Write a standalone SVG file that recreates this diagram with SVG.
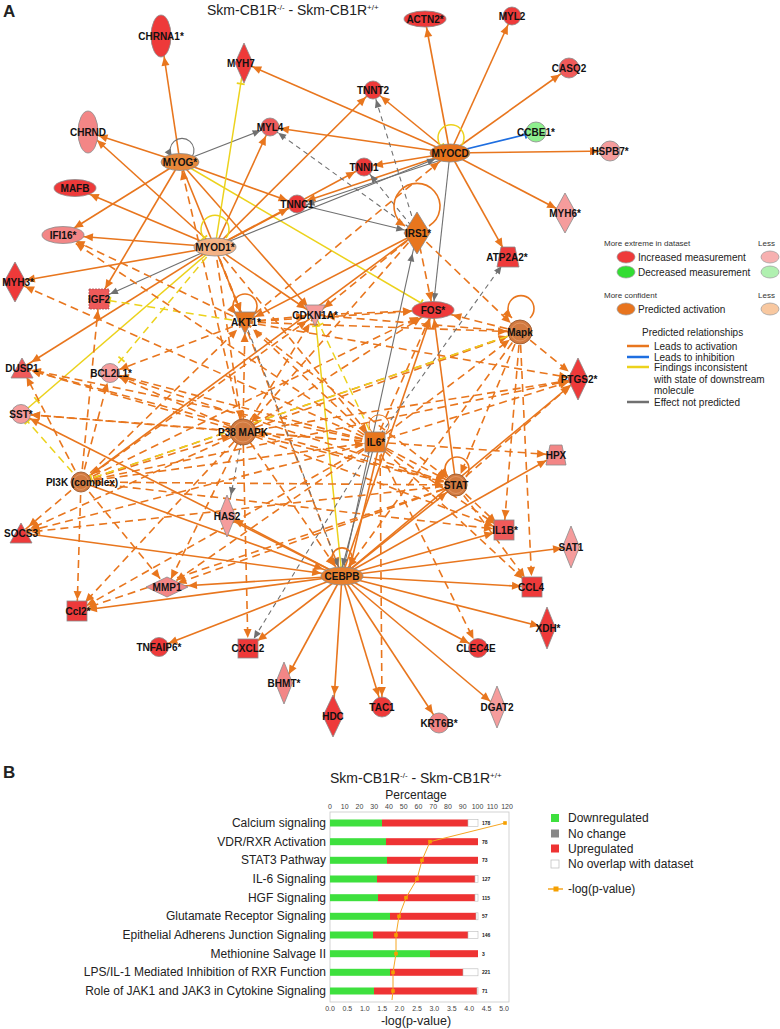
<svg xmlns="http://www.w3.org/2000/svg" width="780" height="1029" viewBox="0 0 780 1029">
<style>
text{font-family:"Liberation Sans",Arial,sans-serif;fill:#222}
.lb{font-size:10px;font-weight:bold;fill:#111;text-anchor:middle}
.s{stroke:#e8761e;stroke-width:1.6;fill:none}
.d{stroke:#e8761e;stroke-width:1.6;stroke-dasharray:8 5;fill:none}
.g{stroke:#707070;stroke-width:1.1;fill:none}
.gd{stroke:#707070;stroke-width:1.1;stroke-dasharray:5 4;fill:none}
.y{stroke:#ecd21c;stroke-width:1.5;fill:none}
.yd{stroke:#ecd21c;stroke-width:1.5;stroke-dasharray:8 5;fill:none}
.b{stroke:#1e6ee0;stroke-width:1.6;fill:none}
.nd{stroke:#8a8a8a;stroke-width:0.8}
.r1{fill:#ee3a3a}.r2{fill:#ef5a5a}.p1{fill:#f59c9c}.p2{fill:#f38686}
.or{fill:#e8761e}.grp{fill:#d27a40;stroke:#9a5a30;stroke-width:0.9}
.cat{font-size:12px;text-anchor:end}
.tk{font-size:7px;fill:#444;text-anchor:middle}
.cnt{font-size:5px;font-weight:bold;fill:#222}
.lg{font-size:10px}
.lgs{font-size:8px;fill:#333}
</style>
<defs>
<marker id="o0" markerUnits="userSpaceOnUse" orient="auto" overflow="visible" refX="0" refY="0" markerWidth="10" markerHeight="10"><path d="M0,0L-9,-4L-9,4z" fill="#e8761e"/></marker>
<marker id="o8" markerUnits="userSpaceOnUse" orient="auto" overflow="visible" refX="8" refY="0" markerWidth="10" markerHeight="10"><path d="M0,0L-9,-4L-9,4z" fill="#e8761e"/></marker>
<marker id="o9" markerUnits="userSpaceOnUse" orient="auto" overflow="visible" refX="9" refY="0" markerWidth="10" markerHeight="10"><path d="M0,0L-9,-4L-9,4z" fill="#e8761e"/></marker>
<marker id="o10" markerUnits="userSpaceOnUse" orient="auto" overflow="visible" refX="10" refY="0" markerWidth="10" markerHeight="10"><path d="M0,0L-9,-4L-9,4z" fill="#e8761e"/></marker>
<marker id="o11" markerUnits="userSpaceOnUse" orient="auto" overflow="visible" refX="11" refY="0" markerWidth="10" markerHeight="10"><path d="M0,0L-9,-4L-9,4z" fill="#e8761e"/></marker>
<marker id="o12" markerUnits="userSpaceOnUse" orient="auto" overflow="visible" refX="12" refY="0" markerWidth="10" markerHeight="10"><path d="M0,0L-9,-4L-9,4z" fill="#e8761e"/></marker>
<marker id="o13" markerUnits="userSpaceOnUse" orient="auto" overflow="visible" refX="13" refY="0" markerWidth="10" markerHeight="10"><path d="M0,0L-9,-4L-9,4z" fill="#e8761e"/></marker>
<marker id="o14" markerUnits="userSpaceOnUse" orient="auto" overflow="visible" refX="14" refY="0" markerWidth="10" markerHeight="10"><path d="M0,0L-9,-4L-9,4z" fill="#e8761e"/></marker>
<marker id="o15" markerUnits="userSpaceOnUse" orient="auto" overflow="visible" refX="15" refY="0" markerWidth="10" markerHeight="10"><path d="M0,0L-9,-4L-9,4z" fill="#e8761e"/></marker>
<marker id="o16" markerUnits="userSpaceOnUse" orient="auto" overflow="visible" refX="16" refY="0" markerWidth="10" markerHeight="10"><path d="M0,0L-9,-4L-9,4z" fill="#e8761e"/></marker>
<marker id="o20" markerUnits="userSpaceOnUse" orient="auto" overflow="visible" refX="20" refY="0" markerWidth="10" markerHeight="10"><path d="M0,0L-9,-4L-9,4z" fill="#e8761e"/></marker>
<marker id="o21" markerUnits="userSpaceOnUse" orient="auto" overflow="visible" refX="21" refY="0" markerWidth="10" markerHeight="10"><path d="M0,0L-9,-4L-9,4z" fill="#e8761e"/></marker>
<marker id="g0" markerUnits="userSpaceOnUse" orient="auto" overflow="visible" refX="0" refY="0" markerWidth="10" markerHeight="10"><path d="M0,0L-8,-3.5L-8,3.5z" fill="#707070"/></marker>
<marker id="g9" markerUnits="userSpaceOnUse" orient="auto" overflow="visible" refX="9" refY="0" markerWidth="10" markerHeight="10"><path d="M0,0L-8,-3.5L-8,3.5z" fill="#707070"/></marker>
<marker id="g10" markerUnits="userSpaceOnUse" orient="auto" overflow="visible" refX="10" refY="0" markerWidth="10" markerHeight="10"><path d="M0,0L-8,-3.5L-8,3.5z" fill="#707070"/></marker>
<marker id="g11" markerUnits="userSpaceOnUse" orient="auto" overflow="visible" refX="11" refY="0" markerWidth="10" markerHeight="10"><path d="M0,0L-8,-3.5L-8,3.5z" fill="#707070"/></marker>
<marker id="g12" markerUnits="userSpaceOnUse" orient="auto" overflow="visible" refX="12" refY="0" markerWidth="10" markerHeight="10"><path d="M0,0L-8,-3.5L-8,3.5z" fill="#707070"/></marker>
<marker id="g13" markerUnits="userSpaceOnUse" orient="auto" overflow="visible" refX="13" refY="0" markerWidth="10" markerHeight="10"><path d="M0,0L-8,-3.5L-8,3.5z" fill="#707070"/></marker>
<marker id="g16" markerUnits="userSpaceOnUse" orient="auto" overflow="visible" refX="16" refY="0" markerWidth="10" markerHeight="10"><path d="M0,0L-8,-3.5L-8,3.5z" fill="#707070"/></marker>
<marker id="g21" markerUnits="userSpaceOnUse" orient="auto" overflow="visible" refX="21" refY="0" markerWidth="10" markerHeight="10"><path d="M0,0L-8,-3.5L-8,3.5z" fill="#707070"/></marker>
<marker id="y0" markerUnits="userSpaceOnUse" orient="auto" overflow="visible" refX="0" refY="0" markerWidth="10" markerHeight="10"><path d="M0,-4V4" stroke="#ecd21c" stroke-width="1.8"/></marker>
<marker id="y10" markerUnits="userSpaceOnUse" orient="auto" overflow="visible" refX="10" refY="0" markerWidth="10" markerHeight="10"><path d="M0,-4V4" stroke="#ecd21c" stroke-width="1.8"/></marker>
<marker id="y11" markerUnits="userSpaceOnUse" orient="auto" overflow="visible" refX="11" refY="0" markerWidth="10" markerHeight="10"><path d="M0,-4V4" stroke="#ecd21c" stroke-width="1.8"/></marker>
<marker id="y14" markerUnits="userSpaceOnUse" orient="auto" overflow="visible" refX="14" refY="0" markerWidth="10" markerHeight="10"><path d="M0,-4V4" stroke="#ecd21c" stroke-width="1.8"/></marker>
<marker id="y18" markerUnits="userSpaceOnUse" orient="auto" overflow="visible" refX="18" refY="0" markerWidth="10" markerHeight="10"><path d="M0,-4V4" stroke="#ecd21c" stroke-width="1.8"/></marker>
<marker id="y21" markerUnits="userSpaceOnUse" orient="auto" overflow="visible" refX="21" refY="0" markerWidth="10" markerHeight="10"><path d="M0,-4V4" stroke="#ecd21c" stroke-width="1.8"/></marker>
<marker id="b11" markerUnits="userSpaceOnUse" orient="auto" overflow="visible" refX="11" refY="0" markerWidth="10" markerHeight="10"><path d="M0,-4V4" stroke="#1e6ee0" stroke-width="1.8"/></marker>
</defs>
<rect width="780" height="1029" fill="#ffffff"/>
<text x="3" y="17" font-size="17" font-weight="bold" fill="#111">A</text>
<text x="207" y="15" font-size="14">Skm-CB1R<tspan font-size="8" dy="-5">-/-</tspan><tspan dy="5"> - Skm-CB1R</tspan><tspan font-size="8" dy="-5">+/+</tspan></text>

<g id="connectors">
<line class="s" x1="450" y1="153" x2="425" y2="19" marker-end="url(#o9)"/>
<line class="s" x1="450" y1="153" x2="512" y2="16" marker-end="url(#o10)"/>
<line class="s" x1="450" y1="153" x2="569" y2="68" marker-end="url(#o11)"/>
<line class="s" x1="450" y1="153" x2="373" y2="90" marker-end="url(#o10)"/>
<line class="s" x1="450" y1="153" x2="270" y2="127" marker-end="url(#o10)"/>
<line class="s" x1="450" y1="153" x2="364" y2="167" marker-end="url(#o10)"/>
<line class="s" x1="450" y1="153" x2="297" y2="204" marker-end="url(#o10)"/>
<line class="s" x1="450" y1="153" x2="610" y2="151" marker-end="url(#o11)"/>
<line class="s" x1="450" y1="153" x2="565" y2="213" marker-end="url(#o10)"/>
<line class="s" x1="450" y1="153" x2="508" y2="257" marker-end="url(#o11)"/>
<line class="s" x1="450" y1="153" x2="244" y2="63" marker-end="url(#o9)"/>
<line class="b" x1="450" y1="153" x2="536" y2="132" marker-end="url(#b11)"/>
<line class="g" x1="450" y1="153" x2="433" y2="310" marker-end="url(#g9)"/>
<line class="g" x1="450" y1="157" x2="297" y2="208" marker-end="url(#g10)"/>
<line class="s" x1="180" y1="162" x2="161" y2="36" marker-end="url(#o21)"/>
<line class="s" x1="180" y1="162" x2="88" y2="132" marker-end="url(#o11)"/>
<line class="g" x1="180" y1="162" x2="270" y2="127" marker-end="url(#g10)"/>
<line class="y" x1="180" y1="162" x2="433" y2="310" marker-end="url(#y14)"/>
<line class="s" x1="180" y1="162" x2="63" y2="235" marker-end="url(#o13)"/>
<line class="s" x1="180" y1="162" x2="99" y2="299" marker-end="url(#o12)"/>
<line class="s" x1="180" y1="162" x2="297" y2="204" marker-end="url(#o10)"/>
<line class="s" x1="180" y1="162" x2="315" y2="315" marker-end="url(#o11)"/>
<line class="s" x1="180" y1="162" x2="245" y2="322" marker-end="url(#o11)"/>
<line class="d" x1="243" y1="432" x2="180" y2="162" marker-end="url(#o9)"/>
<line class="s" x1="215" y1="247" x2="63" y2="235" marker-end="url(#o21)"/>
<line class="s" x1="215" y1="247" x2="15" y2="282" marker-end="url(#o11)"/>
<line class="s" x1="215" y1="247" x2="75" y2="188" marker-end="url(#o16)"/>
<line class="s" x1="215" y1="247" x2="88" y2="132" marker-end="url(#o12)"/>
<line class="s" x1="215" y1="247" x2="270" y2="127" marker-end="url(#o10)"/>
<line class="s" x1="215" y1="247" x2="297" y2="204" marker-end="url(#o10)"/>
<line class="s" x1="215" y1="247" x2="364" y2="167" marker-end="url(#o10)"/>
<line class="s" x1="215" y1="247" x2="373" y2="90" marker-end="url(#o10)"/>
<line class="y" x1="215" y1="247" x2="244" y2="63" marker-end="url(#y21)"/>
<line class="y" x1="215" y1="247" x2="21" y2="414" marker-end="url(#y21)"/>
<line class="yd" x1="215" y1="247" x2="110" y2="373" marker-end="url(#y18)"/>
<line class="s" x1="215" y1="247" x2="22" y2="368" marker-end="url(#o11)"/>
<line class="g" x1="215" y1="247" x2="450" y2="153" marker-end="url(#g16)"/>
<line class="g" x1="215" y1="247" x2="99" y2="299" marker-end="url(#g12)"/>
<line class="s" x1="215" y1="247" x2="315" y2="315" marker-end="url(#o11)"/>
<line class="d" x1="215" y1="247" x2="245" y2="322" marker-end="url(#o11)"/>
<line class="d" x1="215" y1="247" x2="243" y2="432" marker-end="url(#o13)"/>
<line class="d" x1="215" y1="247" x2="375" y2="442" marker-end="url(#o12)"/>
<line class="d" x1="215" y1="247" x2="342" y2="576" marker-end="url(#o10)"/>
<line class="s" x1="417" y1="233" x2="245" y2="322" marker-end="url(#o11)"/>
<line class="s" x1="417" y1="233" x2="81" y2="482" marker-end="url(#o13)"/>
<line class="d" x1="417" y1="233" x2="243" y2="432" marker-end="url(#o13)"/>
<line class="d" x1="417" y1="233" x2="433" y2="310" marker-end="url(#o9)"/>
<line class="d" x1="417" y1="233" x2="520" y2="332" marker-end="url(#o13)"/>
<line class="d" x1="417" y1="233" x2="315" y2="315" marker-end="url(#o11)"/>
<line class="gd" x1="417" y1="233" x2="270" y2="127" marker-end="url(#g10)"/>
<line class="gd" x1="417" y1="233" x2="373" y2="90" marker-end="url(#g10)"/>
<line class="gd" x1="417" y1="233" x2="364" y2="167" marker-end="url(#g10)"/>
<line class="g" x1="342" y1="576" x2="417" y2="233" marker-end="url(#g21)"/>
<line class="g" x1="297" y1="204" x2="417" y2="233" marker-end="url(#g13)"/>
<line class="d" x1="245" y1="322" x2="433" y2="310" marker-end="url(#o21)"/>
<line class="d" x1="315" y1="315" x2="433" y2="310" marker-end="url(#o21)"/>
<line class="d" x1="243" y1="432" x2="433" y2="310" marker-end="url(#o14)"/>
<line class="d" x1="81" y1="482" x2="433" y2="310" marker-end="url(#o16)"/>
<line class="d" x1="375" y1="442" x2="433" y2="310" marker-end="url(#o10)"/>
<line class="s" x1="456" y1="485" x2="433" y2="310" marker-end="url(#o9)"/>
<line class="s" x1="342" y1="576" x2="433" y2="310" marker-end="url(#o9)"/>
<line class="d" x1="520" y1="332" x2="433" y2="310" marker-end="url(#o20)"/>
<line class="d" x1="245" y1="322" x2="315" y2="315" marker-end="url(#o10)"/>
<line class="d" x1="243" y1="432" x2="315" y2="315" marker-end="url(#o10)"/>
<line class="d" x1="81" y1="482" x2="315" y2="315" marker-end="url(#o10)"/>
<line class="yd" x1="375" y1="442" x2="315" y2="315" marker-end="url(#y11)"/>
<line class="y" x1="342" y1="576" x2="315" y2="315" marker-end="url(#y11)"/>
<line class="d" x1="520" y1="332" x2="315" y2="315" marker-end="url(#o11)"/>
<line class="d" x1="81" y1="482" x2="245" y2="322" marker-end="url(#o11)"/>
<line class="d" x1="243" y1="432" x2="245" y2="322" marker-end="url(#o11)"/>
<line class="d" x1="375" y1="442" x2="245" y2="322" marker-end="url(#o11)"/>
<line class="d" x1="245" y1="322" x2="520" y2="332" marker-end="url(#o13)"/>
<line class="d" x1="245" y1="322" x2="456" y2="485" marker-end="url(#o12)"/>
<line class="yd" x1="245" y1="322" x2="99" y2="299" marker-end="url(#y11)"/>
<line class="gd" x1="245" y1="322" x2="342" y2="576" marker-end="url(#g10)"/>
<line class="d" x1="245" y1="322" x2="110" y2="373" marker-end="url(#o10)"/>
<line class="d" x1="245" y1="322" x2="63" y2="235" marker-end="url(#o14)"/>
<line class="d" x1="245" y1="322" x2="578" y2="379" marker-end="url(#o10)"/>
<line class="d" x1="245" y1="322" x2="450" y2="153" marker-end="url(#o14)"/>
<line class="d" x1="81" y1="482" x2="243" y2="432" marker-end="url(#o13)"/>
<line class="d" x1="375" y1="442" x2="243" y2="432" marker-end="url(#o13)"/>
<line class="d" x1="243" y1="432" x2="578" y2="379" marker-end="url(#o10)"/>
<line class="d" x1="243" y1="432" x2="167" y2="587" marker-end="url(#o9)"/>
<line class="d" x1="243" y1="432" x2="77" y2="611" marker-end="url(#o12)"/>
<line class="d" x1="243" y1="432" x2="21" y2="533" marker-end="url(#o10)"/>
<line class="d" x1="243" y1="432" x2="22" y2="368" marker-end="url(#o10)"/>
<line class="d" x1="243" y1="432" x2="110" y2="373" marker-end="url(#o10)"/>
<line class="d" x1="243" y1="432" x2="504" y2="530" marker-end="url(#o11)"/>
<line class="d" x1="243" y1="432" x2="456" y2="485" marker-end="url(#o12)"/>
<line class="d" x1="243" y1="432" x2="342" y2="576" marker-end="url(#o11)"/>
<line class="d" x1="243" y1="432" x2="21" y2="414" marker-end="url(#o10)"/>
<line class="gd" x1="243" y1="432" x2="227" y2="516" marker-end="url(#g21)"/>
<line class="d" x1="243" y1="432" x2="248" y2="648" marker-end="url(#o10)"/>
<line class="d" x1="243" y1="432" x2="520" y2="332" marker-end="url(#o13)"/>
<line class="d" x1="81" y1="482" x2="375" y2="442" marker-end="url(#o11)"/>
<line class="d" x1="81" y1="482" x2="110" y2="373" marker-end="url(#o10)"/>
<line class="d" x1="81" y1="482" x2="99" y2="299" marker-end="url(#o11)"/>
<line class="d" x1="81" y1="482" x2="21" y2="533" marker-end="url(#o10)"/>
<line class="d" x1="81" y1="482" x2="77" y2="611" marker-end="url(#o11)"/>
<line class="d" x1="81" y1="482" x2="167" y2="587" marker-end="url(#o11)"/>
<line class="d" x1="81" y1="482" x2="578" y2="379" marker-end="url(#o11)"/>
<line class="s" x1="81" y1="482" x2="342" y2="576" marker-end="url(#o20)"/>
<line class="d" x1="81" y1="482" x2="456" y2="485" marker-end="url(#o12)"/>
<line class="d" x1="81" y1="482" x2="504" y2="530" marker-end="url(#o11)"/>
<line class="d" x1="81" y1="482" x2="22" y2="368" marker-end="url(#o10)"/>
<line class="yd" x1="81" y1="482" x2="21" y2="414" marker-end="url(#y10)"/>
<line class="d" x1="81" y1="482" x2="520" y2="332" marker-end="url(#o13)"/>
<line class="d" x1="375" y1="442" x2="456" y2="485" marker-end="url(#o12)"/>
<line class="d" x1="375" y1="442" x2="21" y2="533" marker-end="url(#o10)"/>
<line class="d" x1="375" y1="442" x2="578" y2="379" marker-end="url(#o10)"/>
<line class="d" x1="375" y1="442" x2="520" y2="332" marker-end="url(#o13)"/>
<line class="d" x1="375" y1="442" x2="504" y2="530" marker-end="url(#o11)"/>
<line class="d" x1="375" y1="442" x2="532" y2="587" marker-end="url(#o12)"/>
<line class="d" x1="375" y1="442" x2="478" y2="648" marker-end="url(#o10)"/>
<line class="d" x1="375" y1="442" x2="556" y2="455" marker-end="url(#o10)"/>
<line class="d" x1="380" y1="442" x2="382" y2="707" marker-end="url(#o11)"/>
<line class="d" x1="375" y1="442" x2="167" y2="587" marker-end="url(#o11)"/>
<line class="d" x1="375" y1="442" x2="77" y2="611" marker-end="url(#o11)"/>
<line class="d" x1="375" y1="442" x2="63" y2="235" marker-end="url(#o15)"/>
<line class="d" x1="375" y1="442" x2="15" y2="282" marker-end="url(#o11)"/>
<line class="d" x1="375" y1="442" x2="110" y2="373" marker-end="url(#o10)"/>
<line class="d" x1="375" y1="442" x2="22" y2="368" marker-end="url(#o10)"/>
<line class="d" x1="375" y1="442" x2="21" y2="414" marker-end="url(#o10)"/>
<line class="g" x1="375" y1="442" x2="340" y2="576" marker-end="url(#g10)"/>
<line class="s" x1="380" y1="442" x2="348" y2="576" marker-end="url(#o10)"/>
<line class="gd" x1="375" y1="442" x2="508" y2="257" marker-end="url(#g11)"/>
<line class="gd" x1="375" y1="442" x2="248" y2="648" marker-end="url(#g11)"/>
<line class="d" x1="520" y1="332" x2="578" y2="379" marker-end="url(#o12)"/>
<line class="d" x1="520" y1="332" x2="504" y2="530" marker-end="url(#o11)"/>
<line class="d" x1="520" y1="332" x2="342" y2="576" marker-end="url(#o11)"/>
<line class="d" x1="520" y1="332" x2="456" y2="485" marker-end="url(#o12)"/>
<line class="yd" x1="520" y1="332" x2="81" y2="482" marker-end="url(#y11)"/>
<line class="d" x1="520" y1="332" x2="532" y2="587" marker-end="url(#o11)"/>
<line class="d" x1="456" y1="485" x2="21" y2="533" marker-end="url(#o10)"/>
<line class="d" x1="456" y1="485" x2="504" y2="530" marker-end="url(#o11)"/>
<line class="d" x1="456" y1="485" x2="532" y2="587" marker-end="url(#o12)"/>
<line class="d" x1="456" y1="485" x2="167" y2="587" marker-end="url(#o11)"/>
<line class="d" x1="456" y1="485" x2="77" y2="611" marker-end="url(#o11)"/>
<line class="d" x1="456" y1="485" x2="22" y2="368" marker-end="url(#o10)"/>
<line class="d" x1="456" y1="485" x2="110" y2="373" marker-end="url(#o10)"/>
<line class="d" x1="456" y1="485" x2="578" y2="379" marker-end="url(#o11)"/>
<line class="s" x1="342" y1="576" x2="284" y2="683" marker-end="url(#o10)"/>
<line class="s" x1="342" y1="576" x2="333" y2="716" marker-end="url(#o21)"/>
<line class="s" x1="342" y1="576" x2="382" y2="707" marker-end="url(#o11)"/>
<line class="s" x1="342" y1="576" x2="439" y2="723" marker-end="url(#o11)"/>
<line class="s" x1="342" y1="576" x2="497" y2="707" marker-end="url(#o9)"/>
<line class="s" x1="342" y1="576" x2="547" y2="628" marker-end="url(#o8)"/>
<line class="s" x1="342" y1="576" x2="532" y2="587" marker-end="url(#o11)"/>
<line class="s" x1="342" y1="576" x2="571" y2="547" marker-end="url(#o9)"/>
<line class="s" x1="342" y1="576" x2="504" y2="530" marker-end="url(#o11)"/>
<line class="s" x1="342" y1="576" x2="556" y2="455" marker-end="url(#o11)"/>
<line class="s" x1="342" y1="576" x2="578" y2="379" marker-end="url(#o9)"/>
<line class="s" x1="342" y1="576" x2="478" y2="648" marker-end="url(#o10)"/>
<line class="s" x1="342" y1="576" x2="77" y2="611" marker-end="url(#o11)"/>
<line class="s" x1="342" y1="576" x2="167" y2="587" marker-end="url(#o21)"/>
<line class="s" x1="342" y1="576" x2="159" y2="647" marker-end="url(#o10)"/>
<line class="s" x1="342" y1="576" x2="248" y2="648" marker-end="url(#o12)"/>
<line class="s" x1="342" y1="576" x2="227" y2="516" marker-end="url(#o8)"/>
<line class="s" x1="342" y1="576" x2="21" y2="414" marker-end="url(#o10)"/>
<line class="s" x1="21" y1="533" x2="342" y2="576" marker-end="url(#o21)"/>
<line class="s" x1="342" y1="576" x2="456" y2="485" marker-end="url(#o12)"/>
<path class="g" d="M192,157 A12,12 0 1 0 172,157" marker-end="url(#g0)"/>
<path class="y" d="M461,146 A13,13 0 1 0 441,146" marker-end="url(#y0)"/>
<path class="y" d="M226,238 A14,14 0 1 0 204,238" marker-end="url(#y0)"/>
<path class="s" d="M429,226 A23,23 0 1 0 405,226" marker-end="url(#o0)"/>
<path class="s" d="M254,314 A12,12 0 1 0 236,314" marker-end="url(#o0)"/>
<path class="s" d="M530,318 A13,13 0 1 0 512,318" marker-end="url(#o0)"/>
<path class="s" d="M466,477 A12,12 0 1 0 448,477" marker-end="url(#o0)"/>
<path class="s" d="M349,565 A10,10 0 1 0 335,565" marker-end="url(#o0)"/>
<path class="s" style="stroke-width:1" d="M386,432 A10,10 0 1 0 372,432"/>
</g>

<g id="nodes">
<g id="n-CHRNA1"><ellipse class="r1 nd" cx="161" cy="36" rx="10" ry="21"/><text class="lb" x="161" y="40">CHRNA1*</text></g>
<g id="n-MYH7"><path class="r1 nd" d="M244,43L253,63L244,83L235,63z"/><text class="lb" x="241" y="67">MYH7</text></g>
<g id="n-ACTN2"><ellipse class="r1 nd" cx="425" cy="19" rx="21" ry="8"/><text class="lb" x="425" y="23">ACTN2*</text></g>
<g id="n-MYL2"><circle class="r1 nd" cx="512" cy="16" r="9"/><text class="lb" x="512" y="20">MYL2</text></g>
<g id="n-CASQ2"><circle class="r2 nd" cx="569" cy="68" r="10"/><text class="lb" x="569" y="72">CASQ2</text></g>
<g id="n-TNNT2"><circle class="r1 nd" cx="373" cy="90" r="9"/><text class="lb" x="373" y="94">TNNT2</text></g>
<g id="n-CHRND"><ellipse class="p2 nd" cx="88" cy="132" rx="10" ry="21"/><text class="lb" x="88" y="136">CHRND</text></g>
<g id="n-MYOG"><ellipse class="nd" fill="#e8883a" cx="180" cy="162" rx="19" ry="8.5"/><text class="lb" x="180" y="166">MYOG*</text></g>
<g id="n-MYL4"><circle class="r2 nd" cx="270" cy="127" r="9"/><text class="lb" x="270" y="131">MYL4</text></g>
<g id="n-MYOCD"><ellipse class="nd" fill="#e8731c" cx="450" cy="153" rx="20" ry="9"/><text class="lb" x="450" y="157">MYOCD</text></g>
<g id="n-CCBE1"><circle class="nd" fill="#8ef08e" cx="536" cy="132" r="10"/><text class="lb" x="536" y="136">CCBE1*</text></g>
<g id="n-HSPB7"><circle class="p1 nd" cx="610" cy="151" r="10"/><text class="lb" x="610" y="155">HSPB7*</text></g>
<g id="n-TNNI1"><circle class="r1 nd" cx="364" cy="167" r="9"/><text class="lb" x="364" y="171">TNNI1</text></g>
<g id="n-MAFB"><ellipse class="r1 nd" cx="75" cy="188" rx="21" ry="8.5"/><text class="lb" x="75" y="192">MAFB</text></g>
<g id="n-TNNC1"><circle class="r1 nd" cx="297" cy="204" r="9"/><text class="lb" x="297" y="208">TNNC1</text></g>
<g id="n-MYH6"><path class="p1 nd" d="M565,193L576,213L565,233L554,213z"/><text class="lb" x="565" y="217">MYH6*</text></g>
<g id="n-IFI16"><ellipse class="p2 nd" cx="63" cy="235" rx="21" ry="8.5"/><text class="lb" x="63" y="239">IFI16*</text></g>
<g id="n-MYOD1"><ellipse class="nd" fill="#f4b385" cx="215" cy="247" rx="21" ry="9"/><text class="lb" x="215" y="251">MYOD1*</text></g>
<g id="n-IRS1"><path class="or nd" d="M417,212L430,233L417,254L404,233z"/><text class="lb" x="418" y="237">IRS1*</text></g>
<g id="n-ATP2A2"><path class="r1 nd" d="M501,247L515,247L519,267L497,267z"/><text class="lb" x="507" y="261">ATP2A2*</text></g>
<g id="n-MYH3"><path class="r1 nd" d="M15,262L26,282L15,302L4,282z"/><text class="lb" x="18" y="286">MYH3*</text></g>
<g id="n-IGF2"><rect class="r2" x="89" y="289" width="20" height="20" stroke="#b05050" stroke-width="0.8" stroke-dasharray="2 1"/><text class="lb" x="99" y="303">IGF2</text></g>
<g id="n-AKT1"><path class="or nd" d="M234,312L256,312L245,334z"/><text class="lb" x="246" y="326">AKT1*</text></g>
<g id="n-CDKN1A"><path class="p1 nd" d="M305,305L325,305L315,326z"/><text class="lb" x="315" y="319">CDKN1A*</text></g>
<g id="n-FOS"><ellipse class="r1 nd" cx="433" cy="310" rx="21" ry="8.5"/><text class="lb" x="433" y="314">FOS*</text></g>
<g id="n-Mapk"><circle class="grp" cx="520" cy="332" r="12"/><circle fill="none" stroke="#e8a070" stroke-width="0.7" cx="520" cy="332" r="9"/><text class="lb" x="520" y="336">Mapk</text></g>
<g id="n-PTGS2"><path class="r1 nd" d="M578,358L588,379L578,400L568,379z"/><text class="lb" x="579" y="383">PTGS2*</text></g>
<g id="n-DUSP1"><path class="r2 nd" d="M22,358L33,378L11,378z"/><text class="lb" x="22" y="372">DUSP1</text></g>
<g id="n-BCL2L1"><circle class="p1 nd" cx="110" cy="373" r="9.5"/><text class="lb" x="111" y="377">BCL2L1*</text></g>
<g id="n-SST"><circle class="p1 nd" cx="21" cy="414" r="9.5"/><text class="lb" x="21" y="418">SST*</text></g>
<g id="n-P38"><circle class="grp" cx="243" cy="432" r="13"/><circle fill="none" stroke="#e8a070" stroke-width="0.7" cx="243" cy="432" r="10"/><text class="lb" x="243" y="436">P38 MAPK</text></g>
<g id="n-IL6"><rect class="or nd" x="365" y="432" width="20" height="20"/><text class="lb" x="376" y="446">IL6*</text></g>
<g id="n-HPX"><path class="p2 nd" d="M550,445L562,445L566,465L546,465z"/><text class="lb" x="556" y="459">HPX</text></g>
<g id="n-PI3K"><circle class="grp" cx="81" cy="482" r="10"/><circle fill="none" stroke="#e8a070" stroke-width="0.7" cx="81" cy="482" r="7.5"/><text class="lb" x="82" y="486">PI3K (complex)</text></g>
<g id="n-STAT"><circle class="grp" fill="#c87a45" cx="456" cy="485" r="11"/><circle fill="none" stroke="#e8a070" stroke-width="0.7" cx="456" cy="485" r="8.5"/><text class="lb" x="456" y="489">STAT</text></g>
<g id="n-HAS2"><path class="p1 nd" d="M227,495L235.5,516L227,537L218.5,516z"/><text class="lb" x="227" y="520">HAS2</text></g>
<g id="n-IL1B"><rect class="r2 nd" x="494" y="520" width="20" height="20"/><text class="lb" x="505" y="534">IL1B*</text></g>
<g id="n-SOCS3"><path class="r1 nd" d="M21,523L32,543L10,543z"/><text class="lb" x="21" y="537">SOCS3</text></g>
<g id="n-SAT1"><path class="p1 nd" d="M571,526L579.5,547L571,568L562.5,547z"/><text class="lb" x="571" y="551">SAT1</text></g>
<g id="n-CEBPB"><ellipse class="nd" fill="#e8802e" cx="342" cy="576" rx="21" ry="9"/><text class="lb" x="342" y="580">CEBPB</text></g>
<g id="n-MMP1"><path class="p2 nd" d="M146,587L167,577L188,587L167,597z"/><text class="lb" x="167" y="591">MMP1</text></g>
<g id="n-CCL4"><rect class="r1 nd" x="522" y="577" width="20" height="20"/><text class="lb" x="531" y="591">CCL4</text></g>
<g id="n-Ccl2"><rect class="r1 nd" x="67" y="601" width="20" height="20"/><text class="lb" x="78" y="615">Ccl2*</text></g>
<g id="n-XDH"><path class="r1 nd" d="M547,607L555.5,628L547,649L538.5,628z"/><text class="lb" x="548" y="632">XDH*</text></g>
<g id="n-TNFAIP6"><circle class="r1 nd" cx="159" cy="647" r="9.5"/><text class="lb" x="159" y="651">TNFAIP6*</text></g>
<g id="n-CXCL2"><rect class="r1 nd" x="238" y="639" width="20" height="19"/><text class="lb" x="248" y="652">CXCL2</text></g>
<g id="n-CLEC4E"><circle class="r1 nd" cx="478" cy="648" r="9.5"/><text class="lb" x="476" y="652">CLEC4E</text></g>
<g id="n-BHMT"><path class="p2 nd" d="M284,662L292.5,683L284,704L275.5,683z"/><text class="lb" x="284" y="687">BHMT*</text></g>
<g id="n-HDC"><path class="r1 nd" d="M333,695L343,716L333,737L323,716z"/><text class="lb" x="333" y="720">HDC</text></g>
<g id="n-TAC1"><circle class="r1 nd" cx="382" cy="707" r="10"/><text class="lb" x="382" y="711">TAC1</text></g>
<g id="n-KRT6B"><circle class="p2 nd" cx="439" cy="723" r="10"/><text class="lb" x="439" y="727">KRT6B*</text></g>
<g id="n-DGAT2"><path class="p1 nd" d="M497,686L505.5,707L497,728L488.5,707z"/><text class="lb" x="497" y="711">DGAT2</text></g>
</g>

<g id="legend-network">
<text class="lgs" x="604" y="246">More extreme in dataset</text>
<text class="lgs" x="758" y="246">Less</text>
<ellipse cx="626" cy="257" rx="9" ry="6" fill="#ee3a3a" stroke="#999" stroke-width="0.7"/>
<text class="lg" x="638" y="261">Increased measurement</text>
<ellipse cx="770" cy="257" rx="9" ry="6" fill="#f7b0b0" stroke="#999" stroke-width="0.7"/>
<ellipse cx="626" cy="272" rx="9" ry="6" fill="#33dd33" stroke="#999" stroke-width="0.7"/>
<text class="lg" x="638" y="276">Decreased measurement</text>
<ellipse cx="770" cy="272" rx="9" ry="6" fill="#b0f0b0" stroke="#999" stroke-width="0.7"/>
<text class="lgs" x="604" y="298">More confident</text>
<text class="lgs" x="758" y="298">Less</text>
<ellipse cx="626" cy="309" rx="9" ry="6" fill="#e8741e" stroke="#999" stroke-width="0.7"/>
<text class="lg" x="638" y="313">Predicted activation</text>
<ellipse cx="770" cy="309" rx="9" ry="6" fill="#f8c8a0" stroke="#999" stroke-width="0.7"/>
<text class="lg" x="642" y="336">Predicted relationships</text>
<line x1="627" y1="346" x2="649" y2="346" stroke="#e8761e" stroke-width="2.5"/>
<text class="lg" x="654" y="350">Leads to activation</text>
<line x1="627" y1="357" x2="649" y2="357" stroke="#1e6ee0" stroke-width="2.5"/>
<text class="lg" x="654" y="361">Leads to inhibition</text>
<line x1="627" y1="367" x2="649" y2="367" stroke="#ecd21c" stroke-width="2.5"/>
<text class="lg" x="654" y="371">Findings inconsistent</text>
<text class="lg" x="654" y="383">with state of downstream</text>
<text class="lg" x="654" y="394">molecule</text>
<line x1="627" y1="402" x2="649" y2="402" stroke="#707070" stroke-width="2.5"/>
<text class="lg" x="654" y="406">Effect not predicted</text>
</g>

<g id="chart">
<text x="3" y="778" font-size="17" font-weight="bold" fill="#111">B</text>
<text x="330" y="783" font-size="14">Skm-CB1R<tspan font-size="8" dy="-5">-/-</tspan><tspan dy="5"> - Skm-CB1R</tspan><tspan font-size="8" dy="-5">+/+</tspan></text>
<text x="416" y="798.5" font-size="12" text-anchor="middle">Percentage</text>
<text class="tk" x="330" y="808.5">0</text><text class="tk" x="344.75" y="808.5">10</text><text class="tk" x="359.5" y="808.5">20</text><text class="tk" x="374.25" y="808.5">30</text><text class="tk" x="389" y="808.5">40</text><text class="tk" x="403.75" y="808.5">50</text><text class="tk" x="418.5" y="808.5">60</text><text class="tk" x="433.25" y="808.5">70</text><text class="tk" x="448" y="808.5">80</text><text class="tk" x="462.75" y="808.5">90</text><text class="tk" x="477.5" y="808.5">100</text><text class="tk" x="492.25" y="808.5">110</text><text class="tk" x="507" y="808.5">120</text>
<text class="tk" x="330" y="1011">0.0</text><text class="tk" x="347.4" y="1011">0.5</text><text class="tk" x="364.8" y="1011">1.0</text><text class="tk" x="382.2" y="1011">1.5</text><text class="tk" x="399.6" y="1011">2.0</text><text class="tk" x="417" y="1011">2.5</text><text class="tk" x="434.4" y="1011">3.0</text><text class="tk" x="451.8" y="1011">3.5</text><text class="tk" x="469.2" y="1011">4.0</text><text class="tk" x="486.6" y="1011">4.5</text><text class="tk" x="504" y="1011">5.0</text>
<rect x="330" y="812" width="179" height="190" fill="none" stroke="#c8c8c8" stroke-width="0.8"/>
<g id="bars">
<text class="cat" x="326" y="827">Calcium signaling</text>
<rect x="330" y="819.5" width="52" height="7" fill="#3ee03e"/><rect x="382" y="819.5" width="86" height="7" fill="#ee3333"/><rect x="468" y="819.5" width="10" height="7" fill="#fff" stroke="#bbb" stroke-width="0.6"/><text class="cnt" x="482" y="825">178</text>
<text class="cat" x="326" y="845.7">VDR/RXR Activation</text>
<rect x="330" y="838.2" width="56" height="7" fill="#3ee03e"/><rect x="386" y="838.2" width="92" height="7" fill="#ee3333"/><text class="cnt" x="482" y="843.7">78</text>
<text class="cat" x="326" y="864.3">STAT3 Pathway</text>
<rect x="330" y="856.8" width="57" height="7" fill="#3ee03e"/><rect x="387" y="856.8" width="91" height="7" fill="#ee3333"/><text class="cnt" x="482" y="862.3">73</text>
<text class="cat" x="326" y="883">IL-6 Signaling</text>
<rect x="330" y="875.5" width="47" height="7" fill="#3ee03e"/><rect x="377" y="875.5" width="98" height="7" fill="#ee3333"/><rect x="475" y="875.5" width="3" height="7" fill="#fff" stroke="#bbb" stroke-width="0.6"/><text class="cnt" x="482" y="881">127</text>
<text class="cat" x="326" y="901.7">HGF Signaling</text>
<rect x="330" y="894.2" width="48" height="7" fill="#3ee03e"/><rect x="378" y="894.2" width="97" height="7" fill="#ee3333"/><rect x="475" y="894.2" width="3" height="7" fill="#fff" stroke="#bbb" stroke-width="0.6"/><text class="cnt" x="482" y="899.7">115</text>
<text class="cat" x="326" y="920.3">Glutamate Receptor Signaling</text>
<rect x="330" y="912.8" width="60" height="7" fill="#3ee03e"/><rect x="390" y="912.8" width="86" height="7" fill="#ee3333"/><rect x="476" y="912.8" width="2" height="7" fill="#fff" stroke="#bbb" stroke-width="0.6"/><text class="cnt" x="482" y="918.3">57</text>
<text class="cat" x="326" y="939">Epithelial Adherens Junction Signaling</text>
<rect x="330" y="931.5" width="43" height="7" fill="#3ee03e"/><rect x="373" y="931.5" width="95" height="7" fill="#ee3333"/><rect x="468" y="931.5" width="10" height="7" fill="#fff" stroke="#bbb" stroke-width="0.6"/><text class="cnt" x="482" y="937">146</text>
<text class="cat" x="326" y="957.7">Methionine Salvage II</text>
<rect x="330" y="950.2" width="100" height="7" fill="#3ee03e"/><rect x="430" y="950.2" width="48" height="7" fill="#ee3333"/><text class="cnt" x="482" y="955.7">3</text>
<text class="cat" x="326" y="976.3">LPS/IL-1 Mediated Inhibition of RXR Function</text>
<rect x="330" y="968.8" width="60" height="7" fill="#3ee03e"/><rect x="390" y="968.8" width="73" height="7" fill="#ee3333"/><rect x="463" y="968.8" width="15" height="7" fill="#fff" stroke="#bbb" stroke-width="0.6"/><text class="cnt" x="482" y="974.3">221</text>
<text class="cat" x="326" y="995">Role of JAK1 and JAK3 in Cytokine Signaling</text>
<rect x="330" y="987.5" width="44" height="7" fill="#3ee03e"/><rect x="374" y="987.5" width="103" height="7" fill="#ee3333"/><rect x="477" y="987.5" width="1" height="7" fill="#fff" stroke="#bbb" stroke-width="0.6"/><text class="cnt" x="482" y="993">71</text>
</g>
<polyline points="505,823 430,841.7 422,860.3 417,879 406,897.7 399,916.3 396,935 396,953.7 393,972.3 393,991 392,1000" fill="none" stroke="#f5a623" stroke-width="1"/>
<g fill="#f5a000">
<rect x="503.2" y="821.2" width="3.6" height="3.6"/><rect x="428.2" y="839.9" width="3.6" height="3.6"/><rect x="420.2" y="858.5" width="3.6" height="3.6"/><rect x="415.2" y="877.2" width="3.6" height="3.6"/><rect x="404.2" y="895.9" width="3.6" height="3.6"/><rect x="397.2" y="914.5" width="3.6" height="3.6"/><rect x="394.2" y="933.2" width="3.6" height="3.6"/><rect x="394.2" y="951.9" width="3.6" height="3.6"/><rect x="391.2" y="970.5" width="3.6" height="3.6"/><rect x="391.2" y="989.2" width="3.6" height="3.6"/>
</g>
<text x="416" y="1025" font-size="12.5" text-anchor="middle">-log(p-value)</text>
<rect x="551" y="814" width="8" height="8" fill="#3ee03e"/><text x="568" y="822" font-size="12">Downregulated</text>
<rect x="551" y="829.5" width="8" height="8" fill="#888"/><text x="568" y="837.5" font-size="12">No change</text>
<rect x="551" y="844.5" width="8" height="8" fill="#ee3333"/><text x="568" y="852.5" font-size="12">Upregulated</text>
<rect x="551" y="860" width="8" height="8" fill="#fff" stroke="#bbb" stroke-width="0.7"/><text x="568" y="868" font-size="12">No overlap with dataset</text>
<line x1="548" y1="889" x2="563" y2="889" stroke="#f5a623" stroke-width="1.5"/><rect x="553.5" y="886.5" width="5" height="5" fill="#f5a000"/><text x="568" y="893" font-size="12">-log(p-value)</text>
</g>
</svg>
